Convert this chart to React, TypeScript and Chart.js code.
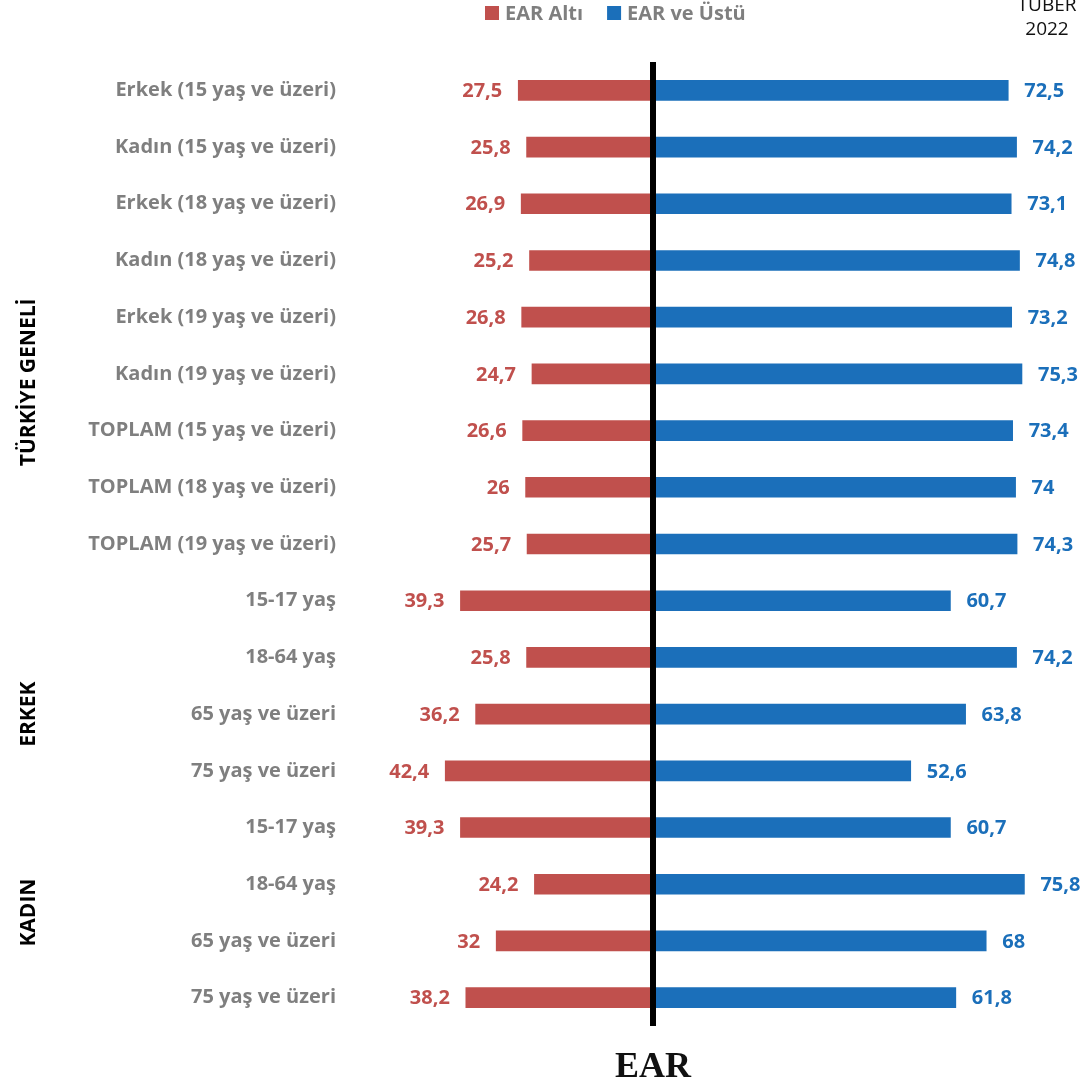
import React, { useEffect, useRef } from "react";
import { Chart, registerables } from "chart.js";

Chart.register(...registerables);

// Row labels, top to bottom
const categories = [
  "Erkek (15 yaş ve üzeri)",
  "Kadın (15 yaş ve üzeri)",
  "Erkek (18 yaş ve üzeri)",
  "Kadın (18 yaş ve üzeri)",
  "Erkek (19 yaş ve üzeri)",
  "Kadın (19 yaş ve üzeri)",
  "TOPLAM (15 yaş ve üzeri)",
  "TOPLAM (18 yaş ve üzeri)",
  "TOPLAM (19 yaş ve üzeri)",
  "15-17 yaş",
  "18-64 yaş",
  "65 yaş ve üzeri",
  "75 yaş ve üzeri",
  "15-17 yaş",
  "18-64 yaş",
  "65 yaş ve üzeri",
  "75 yaş ve üzeri",
];

// Share below EAR (%)
const earAlti = [27.5, 25.8, 26.9, 25.2, 26.8, 24.7, 26.6, 26, 25.7, 39.3, 25.8, 36.2, 42.4, 39.3, 24.2, 32, 38.2];
// Share at or above EAR (%)
const earVeUstu = [72.5, 74.2, 73.1, 74.8, 73.2, 75.3, 73.4, 74, 74.3, 60.7, 74.2, 63.8, 52.6, 60.7, 75.8, 68, 61.8];

// Group captions with the (fractional) row index they are centred on
const groupNames = ["TÜRKİYE GENELİ", "ERKEK", "KADIN"];
const groupCenters = [5.15, 11.0, 14.5];

const seriesNames = ["EAR Altı", "EAR ve Üstü"];
const RED = "#c0504d";
const BLUE = "#1b6fba";
const GREY = "#7f7f7f";
const SANS = "'Open Sans', sans-serif";

const fmt = (v: number) => String(Math.abs(v)).replace(".", ",");

const decorations = {
  id: "decorations",
  afterDatasetsDraw(chart: any) {
    const { ctx, chartArea, scales } = chart;
    const x0 = scales.x.getPixelForValue(0);
    ctx.save();

    // value labels at bar ends
    ctx.font = `bold 20px ${SANS}`;
    ctx.textBaseline = "middle";
    chart.data.datasets.forEach((ds: any, di: number) => {
      const meta = chart.getDatasetMeta(di);
      meta.data.forEach((bar: any, i: number) => {
        const v = ds.data[i];
        ctx.fillStyle = di === 0 ? RED : BLUE;
        if (v < 0) {
          ctx.textAlign = "right";
          ctx.fillText(fmt(v), bar.x - 16, bar.y + 1);
        } else {
          ctx.textAlign = "left";
          ctx.fillText(fmt(v), bar.x + 16, bar.y + 1);
        }
      });
    });

    // zero line
    ctx.strokeStyle = "#000";
    ctx.lineWidth = 6;
    ctx.beginPath();
    ctx.moveTo(x0, chartArea.top);
    ctx.lineTo(x0, chartArea.bottom);
    ctx.stroke();

    // group captions
    ctx.fillStyle = "#000";
    ctx.font = `bold 21px ${SANS}`;
    ctx.textAlign = "center";
    ctx.textBaseline = "middle";
    groupNames.forEach((name, i) => {
      const y = scales.y.getPixelForValue(groupCenters[i]);
      ctx.save();
      ctx.translate(29, y);
      ctx.rotate(-Math.PI / 2);
      ctx.fillText(name, 0, 0);
      ctx.restore();
    });

    // legend
    ctx.font = `bold 20px ${SANS}`;
    ctx.textAlign = "left";
    let lx = 485;
    seriesNames.forEach((name, i) => {
      ctx.fillStyle = i === 0 ? RED : BLUE;
      ctx.fillRect(lx, 6, 14, 14);
      ctx.fillStyle = GREY;
      ctx.fillText(name, lx + 20, 14);
      lx += 20 + ctx.measureText(name).width + 24;
    });

    // corner title
    ctx.fillStyle = "#111";
    ctx.font = `19px ${SANS}`;
    ctx.textAlign = "center";
    ctx.fillText("TUBER", 1047, 6);
    ctx.fillText("2022", 1047, 30);

    // axis title
    ctx.font = "bold 36px 'Liberation Serif', serif";
    ctx.fillText("EAR", x0, 1068);

    ctx.restore();
  },
};

export default function App() {
  const ref = useRef<HTMLCanvasElement | null>(null);

  useEffect(() => {
    if (!ref.current) return;
    const chart = new Chart(ref.current, {
      type: "bar",
      data: {
        labels: categories,
        datasets: [
          {
            label: seriesNames[0],
            data: earAlti.map((v) => -v),
            backgroundColor: RED,
            barThickness: 20,
          },
          {
            label: seriesNames[1],
            data: earVeUstu,
            backgroundColor: BLUE,
            barThickness: 20,
          },
        ],
      },
      options: {
        indexAxis: "y",
        responsive: false,
        animation: false,
        layout: { padding: { top: 62, bottom: 64, right: 42, left: 0 } },
        plugins: {
          legend: { display: false },
          tooltip: { enabled: false },
        },
        scales: {
          x: {
            display: false,
            stacked: true,
            min: -60,
            max: 80,
          },
          y: {
            stacked: true,
            grid: { display: false, drawTicks: false },
            border: { display: false },
            ticks: {
              color: GREY,
              font: { family: SANS, size: 20, weight: "bold" },
              padding: 23,
            },
            afterFit(scale: any) {
              scale.width = 359;
            },
          },
        },
      },
      plugins: [decorations],
    });
    return () => chart.destroy();
  }, []);

  return (
    <div style={{ position: "absolute", left: 0, top: 0, width: 1087, height: 1090, background: "#fff" }}>
      <canvas ref={ref} width={1087} height={1090} />
    </div>
  );
}
